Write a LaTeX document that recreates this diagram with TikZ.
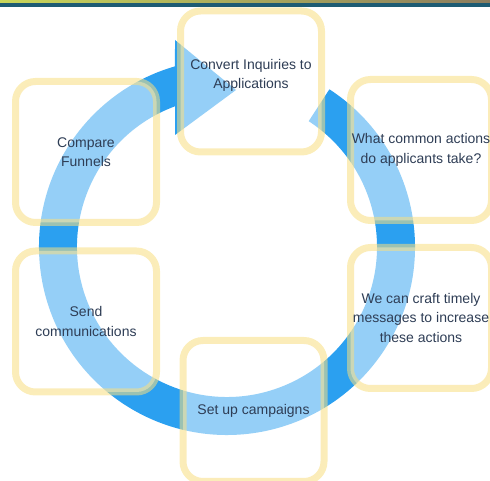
\documentclass[tikz,border=0pt]{standalone}
\usepackage{fontspec}
\setmainfont{Liberation Sans}

\definecolor{ringblue}{HTML}{2BA0F0}
\definecolor{boxline}{HTML}{F8DE80}
\definecolor{labeltext}{HTML}{2E3D55}
\definecolor{barlime}{HTML}{C8D65A}
\definecolor{barolive}{HTML}{8C7C5E}
\definecolor{barteal}{HTML}{1D5B73}

\begin{document}
\begin{tikzpicture}[x=1pt, y=1pt,
  stage/.style={rounded corners=20pt, minimum width=141pt, minimum height=141pt,
    line width=7pt, draw=boxline, fill=white, draw opacity=0.55, fill opacity=0.5,
    text opacity=1, text=labeltext, align=center, inner sep=0pt,
    font=\fontsize{14}{19.5}\selectfont}]
\useasboundingbox (0,0) rectangle (490,481);

% banner along the top edge
\shade[left color=barlime, right color=barolive] (0,477) rectangle (490,481);
\fill[barteal] (0,474) rectangle (490,477.5);

% cycle ring, tail at the upper right, head at the top
\coordinate (c) at (227,234);
\fill[ringblue] (c) ++(57:188pt) arc[start angle=57, end angle=-253.94, radius=188pt]
  -- (175,441) -- (236,391) -- (175,346) -- (175,374.7)
  arc[start angle=-249.72, end angle=57, radius=150pt] -- cycle;

% stages
\node[stage] (convert) at (251,399.5) {Convert Inquiries to\\Applications\vphantom{g}\\[-4pt]};
\node[stage] (compare) at (86,329) {Compare\\Funnels};
\node[stage] (actions) at (421,331) {What common actions\\do applicants take?};
\node[stage] (send) at (86,159.5) {Send\\communications};
\node[stage] (craft) at (421,163) {We can craft timely\\messages to increase\\these actions};
\node[stage] (campaigns) at (253.5,70) {Set up campaigns};
\end{tikzpicture}
\end{document}
